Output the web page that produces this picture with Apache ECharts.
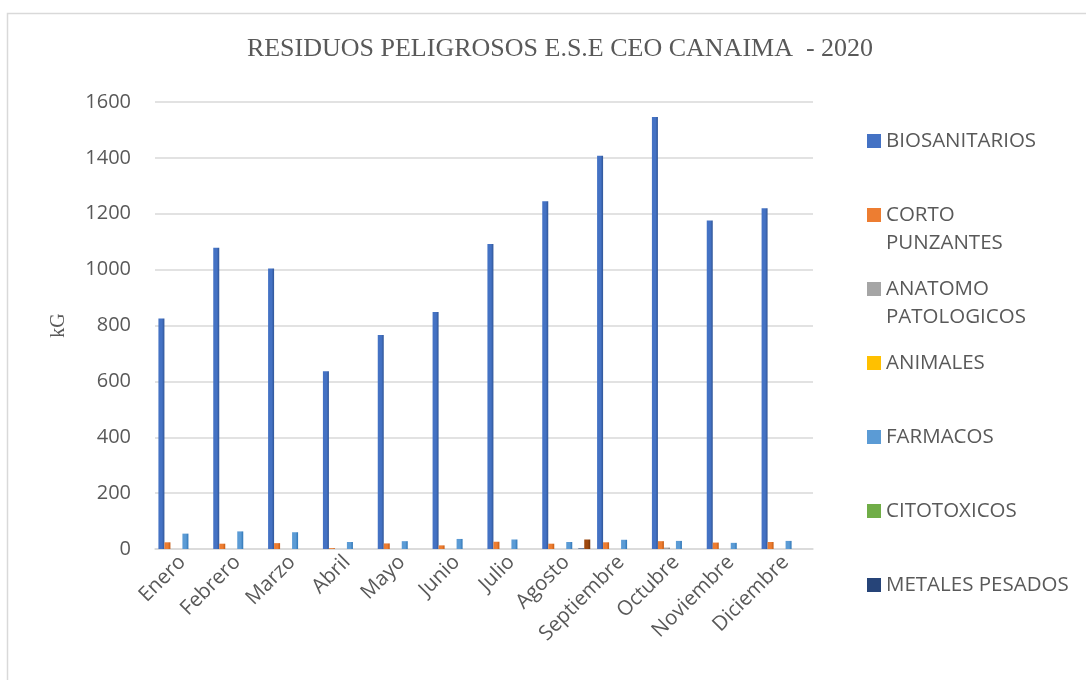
<!DOCTYPE html>
<html>
<head>
<meta charset="utf-8">
<script src="https://cdn.jsdelivr.net/npm/echarts@6/dist/echarts.min.js"></script>
<style>html,body{margin:0;padding:0;background:#fff}#c{width:1086px;height:680px}</style>
</head>
<body>
<div id="c"></div>
<script>
const months = ['Enero','Febrero','Marzo','Abril','Mayo','Junio','Julio','Agosto','Septiembre','Octubre','Noviembre','Diciembre'];
const biosanitarios = [825, 1078, 1004, 636, 766, 848, 1092, 1245, 1408, 1546, 1176, 1220];
const cortoPunzantes = [24, 19, 21, 3, 20, 13, 26, 19, 24, 28, 23, 25];
const anatomoPatologicos = [0, 0, 0, 0, 0, 0, 0, 0, 0, 5, 0, 0];
const animales = [0, 0, 0, 0, 0, 0, 0, 0, 0, 0, 0, 0];
const farmacos = [55, 63, 60, 25, 28, 36, 34, 25, 33, 29, 22, 29];
const citotoxicos = [0, 0, 0, 0, 0, 0, 0, 0, 0, 0, 0, 0];
const metalesPesados = [0, 0, 0, 0, 0, 0, 0, 2, 0, 0, 0, 0];
const otros = [0, 0, 0, 0, 0, 0, 0, 34, 0, 0, 0, 0];
const yTicks = [0, 200, 400, 600, 800, 1000, 1200, 1400, 1600];

const seriesDefs = [
  ['BIOSANITARIOS', biosanitarios, '#4472C4', '#2F5597'],
  ['CORTO PUNZANTES', cortoPunzantes, '#ED7D31', '#C55A11'],
  ['ANATOMO PATOLOGICOS', anatomoPatologicos, '#A5A5A5', '#7F7F7F'],
  ['ANIMALES', animales, '#FFC000', '#BF9000'],
  ['FARMACOS', farmacos, '#5B9BD5', '#2E75B6'],
  ['CITOTOXICOS', citotoxicos, '#70AD47', '#548235'],
  ['METALES PESADOS', metalesPesados, '#264478', '#1A2F53'],
  ['OTROS', otros, '#9E480E', '#6E320A']
];
const legendLabels = {
  'CORTO PUNZANTES': 'CORTO\nPUNZANTES',
  'ANATOMO PATOLOGICOS': 'ANATOMO\nPATOLOGICOS'
};
const legendDefs = seriesDefs.slice(0, 7);

const chart = echarts.init(document.getElementById('c'));
const legends = legendDefs.map((d, i) => {
  const two = !!legendLabels[d[0]];
  return {
    data: [{name: d[0], itemStyle: {color: d[2]}}],
    orient: 'vertical',
    left: 867,
    top: 127 + i * 74,
    padding: 0,
    icon: two ? 'path://M0,0H14V14H0Z M7,41.9L7.01,42' : 'rect',
    itemWidth: 14,
    itemHeight: two ? 42 : 14,
    formatter: name => legendLabels[name] || name,
    textStyle: {
      fontFamily: 'Open Sans',
      fontSize: 20.5,
      color: '#595959',
      lineHeight: 28
    }
  };
});

chart.setOption({
  animation: false,
  backgroundColor: '#fff',
  graphic: [{
    type: 'rect',
    left: 5, top: 11,
    shape: {width: 1100, height: 700},
    style: {fill: 'none', stroke: '#d9d9d9', lineWidth: 1.5},
    silent: true, z: -1
  }],
  title: {
    text: 'RESIDUOS PELIGROSOS E.S.E CEO CANAIMA  - 2020',
    left: 555,
    textAlign: 'center',
    top: 31,
    textStyle: {fontFamily: 'Liberation Serif', fontWeight: 'normal', fontSize: 26, color: '#595959'}
  },
  legend: legends,
  grid: {left: 155, width: 658, top: 102, bottom: 131, containLabel: false},
  xAxis: {
    type: 'category',
    data: months,
    axisLine: {show: true, lineStyle: {color: '#d9d9d9', width: 1.5}},
    axisTick: {show: false},
    axisLabel: {
      rotate: 45, interval: 0, margin: 10,
      fontFamily: 'Open Sans', fontSize: 20.5, color: '#595959'
    }
  },
  yAxis: {
    type: 'value',
    min: yTicks[0],
    max: yTicks[yTicks.length - 1],
    interval: 200,
    name: 'kG',
    nameLocation: 'middle',
    nameRotate: 90,
    nameGap: 86,
    nameTextStyle: {fontFamily: 'Liberation Serif', fontSize: 20, color: '#595959'},
    axisLine: {show: false},
    axisTick: {show: false},
    splitLine: {lineStyle: {color: '#d9d9d9', width: 1.5}},
    axisLabel: {
      margin: 24, fontFamily: 'Open Sans', fontSize: 20, color: '#595959',
      formatter: v => String(v)
    }
  },
  series: seriesDefs.map(d => ({
    name: d[0],
    type: 'bar',
    data: d[1],
    barWidth: 6,
    barGap: '0%',
    itemStyle: {
      color: new echarts.graphic.LinearGradient(0, 0, 1, 0, [
        {offset: 0, color: d[2]}, {offset: 0.6, color: d[2]}, {offset: 1, color: d[3]}
      ])
    }
  }))
});
</script>
</body>
</html>
